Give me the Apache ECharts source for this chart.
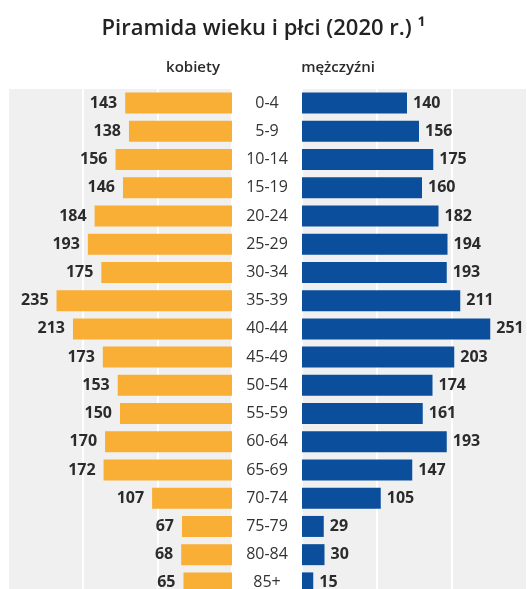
<!DOCTYPE html>
<html>
<head>
<meta charset="utf-8">
<script src="https://cdn.jsdelivr.net/npm/echarts@6/dist/echarts.min.js"></script>
<style>
  html, body { margin: 0; padding: 0; background: #fff; overflow: hidden; }
  /* wykres sięga trochę poniżej okna, jak w oryginale (ucięty dół) */
  #chart { width: 527px; height: 597px; }
</style>
</head>
<body>
<div id="chart"></div>
<script>
// grupy wieku, od najmłodszej
const ageGroups = ['0-4', '5-9', '10-14', '15-19', '20-24', '25-29', '30-34', '35-39', '40-44',
    '45-49', '50-54', '55-59', '60-64', '65-69', '70-74', '75-79', '80-84', '85+'];
const women = [143, 138, 156, 146, 184, 193, 175, 235, 213, 173, 153, 150, 170, 172, 107, 67, 68, 65];
const men = [140, 156, 175, 160, 182, 194, 193, 211, 251, 203, 174, 161, 193, 147, 105, 29, 30, 15];

const titleText = 'Piramida wieku i płci (2020 r.) ¹';
const womenLabel = 'kobiety';
const menLabel = 'mężczyźni';

const font = '"Open Sans", sans-serif';
const dark = '#2b2b2b';

const chart = echarts.init(document.getElementById('chart'));

function valueAxis(index, inverse) {
    return {
        gridIndex: index,
        type: 'value',
        inverse: inverse,
        min: 0,
        max: 300,
        interval: 100,
        axisLabel: {show: false},
        axisTick: {show: false},
        axisLine: {show: false},
        splitLine: {lineStyle: {color: '#ffffff', width: 2}}
    };
}

chart.setOption({
    animation: false,
    title: {
        text: titleText,
        left: 'center',
        top: 13,
        textStyle: {fontFamily: font, fontSize: 22, fontWeight: 600, color: '#222'}
    },
    graphic: [
        {type: 'text', x: 193, y: 68, style: {text: womenLabel, align: 'center', verticalAlign: 'middle',
            font: '600 15px ' + font, fill: dark}},
        {type: 'text', x: 338, y: 68, style: {text: menLabel, align: 'center', verticalAlign: 'middle',
            font: '600 15px ' + font, fill: dark}}
    ],
    grid: [
        {left: 8, width: 224, top: 89, bottom: 0, show: true, backgroundColor: '#f0f0f0', borderWidth: 0},
        {left: 302, width: 225, top: 89, bottom: 0, show: true, backgroundColor: '#f0f0f0', borderWidth: 0}
    ],
    xAxis: [valueAxis(0, true), valueAxis(1, false)],
    yAxis: [
        {
            gridIndex: 0,
            type: 'category',
            data: ageGroups,
            inverse: true,
            position: 'right',
            axisLine: {show: false},
            axisTick: {show: false},
            axisLabel: {
                margin: 35,
                align: 'center',
                fontFamily: font,
                fontSize: 16,
                color: '#333'
            }
        },
        {
            gridIndex: 1,
            type: 'category',
            data: ageGroups,
            inverse: true,
            axisLine: {show: false},
            axisTick: {show: false},
            axisLabel: {show: false}
        }
    ],
    series: [
        {
            name: womenLabel,
            type: 'bar',
            xAxisIndex: 0,
            yAxisIndex: 0,
            data: women,
            barWidth: 21,
            itemStyle: {color: '#f9ae35'},
            label: {
                show: true,
                position: 'left',
                distance: 8,
                fontFamily: font,
                fontSize: 16,
                fontWeight: 'bold',
                color: dark
            }
        },
        {
            name: menLabel,
            type: 'bar',
            xAxisIndex: 1,
            yAxisIndex: 1,
            data: men,
            barWidth: 21,
            itemStyle: {color: '#0b4f9c'},
            label: {
                show: true,
                position: 'right',
                distance: 6,
                fontFamily: font,
                fontSize: 16,
                fontWeight: 'bold',
                color: dark
            }
        }
    ]
});
</script>
</body>
</html>
